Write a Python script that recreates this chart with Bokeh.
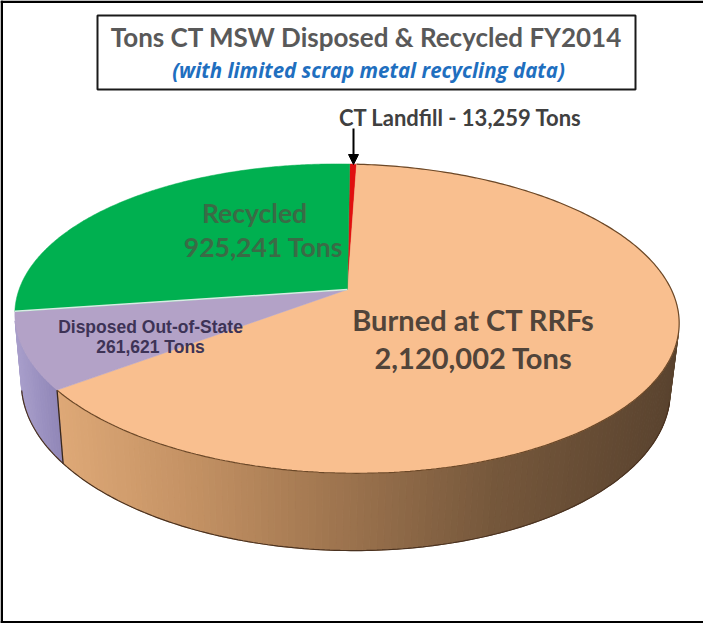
import numpy as np
from bokeh.plotting import figure
from bokeh.models import Range1d, Label, Arrow, NormalHead
from bokeh.embed import file_html
from bokeh.resources import INLINE

# ---------------- data ----------------
categories = ["CT Landfill", "Burned at CT RRFs", "Disposed Out-of-State", "Recycled"]
tons = [13259, 2120002, 261621, 925241]
top_colors = ["#E01010", "#F9BF8F", "#B3A2C7", "#00B050"]
title_text = "Tons CT MSW Disposed & Recycled FY2014"
subtitle_text = "(with limited scrap metal recycling data)"
landfill_label = "CT Landfill - 13,259 Tons"
burned_label = ["Burned at CT RRFs", "2,120,002 Tons"]
recycled_label = ["Recycled", "925,241 Tons"]
disposed_label = ["Disposed Out-of-State", "261,621 Tons"]

# ---------------- 3D pie projection ----------------
F = 1540.0
S, C = 0.457, 0.889
DD = 4.72
H = 0.237
CX, CY = 355.0, 297.0
ROT = np.deg2rad(1.0)


def proj(theta, z):
    theta = np.asarray(theta, dtype=float)
    X = np.sin(theta)
    Y = np.cos(theta)
    depth = DD + Y * C - z * S
    sx = F * X / depth
    sy = -F * (Y * S + z * C) / depth
    xr = sx * np.cos(ROT) - sy * np.sin(ROT)
    yr = sx * np.sin(ROT) + sy * np.cos(ROT)
    return CX + xr, CY + yr


total = float(sum(tons))
fr = np.array(tons) / total
edges = np.concatenate([[0.0], np.cumsum(fr)]) * 2 * np.pi

p = figure(width=703, height=623, x_range=Range1d(8, 711), y_range=Range1d(631, 8),
           output_backend="svg", toolbar_location=None, min_border=0,
           x_axis_location=None, y_axis_location=None)
p.outline_line_color = None
p.grid.visible = False
p.background_fill_color = "white"

# frame lines
p.quad(left=[8, 8, 8], right=[711, 10.5, 711], top=[8, 8, 628.5],
       bottom=[10.5, 631, 630.5], fill_color="black", line_color=None)


def lerp_color(x, stops):
    xs = [s[0] for s in stops]
    r = np.interp(x, xs, [s[1][0] for s in stops])
    g = np.interp(x, xs, [s[1][1] for s in stops])
    b = np.interp(x, xs, [s[1][2] for s in stops])
    return "#%02x%02x%02x" % (int(r), int(g), int(b))


side_stops = {
    1: [(60, (224, 170, 120)), (200, (196, 146, 100)), (340, (160, 118, 80)),
        (500, (118, 88, 60)), (690, (88, 66, 46))],
    2: [(20, (172, 162, 206)), (75, (140, 130, 180))],
    3: [(0, (0, 120, 60)), (700, (0, 120, 60))],
    0: [(0, (150, 0, 0)), (700, (150, 0, 0))],
}

# visible side range
tcrit = np.arccos(-1.0 / (DD * C))
vis0, vis1 = tcrit, 2 * np.pi - tcrit

sx_list, sy_list, scol = [], [], []
for i in range(len(tons)):
    a0 = max(edges[i], vis0)
    a1 = min(edges[i + 1], vis1)
    if a1 <= a0:
        continue
    n = max(2, int(np.degrees(a1 - a0)) + 1)
    th = np.linspace(a0, a1, n)
    for k in range(n - 1):
        t = th[k:k + 2]
        tx, ty = proj(t, 0.0)
        bx, by = proj(t[::-1], -H)
        xs = list(tx) + list(bx)
        ys = list(ty) + list(by)
        col = lerp_color(np.mean(xs), side_stops[i])
        sx_list.append(xs)
        sy_list.append(ys)
        scol.append(col)

p.patches(sx_list, sy_list, fill_color=scol, line_color=scol, line_width=1)

# bottom edge outline of the side
thb = np.linspace(vis0, vis1, 200)
bx, by = proj(thb, -H)
p.line(bx, by, line_color="#4a3220", line_width=1.2)
# slice boundary edge on the side (burned / disposed)
eb = edges[2]
ex0, ey0 = proj(eb, 0.0)
ex1, ey1 = proj(eb, -H)
p.line([float(ex0), float(ex1)], [float(ey0), float(ey1)], line_color="#3a2818", line_width=1.3)

# top face slices
for i in range(len(tons)):
    n = max(3, int(np.degrees(edges[i + 1] - edges[i]) * 2) + 2)
    th = np.linspace(edges[i], edges[i + 1], n)
    tx, ty = proj(th, 0.0)
    xs = [CX] + list(tx)
    ys = [CY] + list(ty)
    p.patch(xs, ys, fill_color=top_colors[i], line_color=top_colors[i], line_width=0.5)

# outline arc of the burned slice
thb = np.linspace(edges[1], edges[2], 300)
ax_, ay_ = proj(thb, 0.0)
p.line(ax_, ay_, line_color="#6b4828", line_width=1.2)
# light separator between recycled and disposed
sx0, sy0 = proj(edges[3], 0.0)
p.line([CX, float(sx0)], [CY, float(sy0)], line_color="#d8ece4", line_width=1.5)

# ---------------- title box ----------------
p.quad(left=[105], right=[643], top=[23], bottom=[97], fill_color="white",
       line_color="#1a1a1a", line_width=2)
p.add_layout(Label(x=374, y=44, text=title_text, text_align="center", text_baseline="middle",
                   text_font="Lato", text_font_style="bold", text_font_size="26px",
                   text_color="#595959"))
p.add_layout(Label(x=376, y=77, text=subtitle_text, text_align="center", text_baseline="middle",
                   text_font="Open Sans", text_font_style="bold italic", text_font_size="20.5px",
                   text_color="#1f6fbf"))

# ---------------- labels ----------------
p.add_layout(Label(x=468, y=125, text=landfill_label, text_align="center", text_baseline="middle",
                   text_font="Lato", text_font_style="bold", text_font_size="22px",
                   text_color="#404040"))
p.add_layout(Arrow(end=NormalHead(size=10, fill_color="black", line_color="black"),
                   x_start=361, y_start=136, x_end=361, y_end=172,
                   line_color="black", line_width=2))

for t, xx, yy in zip(recycled_label, [262, 271], [220, 254]):
    p.add_layout(Label(x=xx, y=yy, text=t, text_align="center", text_baseline="middle",
                       text_font="Lato", text_font_style="bold", text_font_size="26.5px",
                       text_color="#3a6b46"))
for t, yy in zip(burned_label, [327, 365]):
    p.add_layout(Label(x=481, y=yy, text=t, text_align="center", text_baseline="middle",
                       text_font="Lato", text_font_style="bold", text_font_size="29px",
                       text_color="#51443a"))
for t, yy in zip(disposed_label, [334, 354]):
    p.add_layout(Label(x=158, y=yy, text=t, text_align="center", text_baseline="middle",
                       text_font="Liberation Sans", text_font_style="bold", text_font_size="17.5px",
                       text_color="#3d3356"))

open("out.html", "w").write(file_html(p, INLINE))
